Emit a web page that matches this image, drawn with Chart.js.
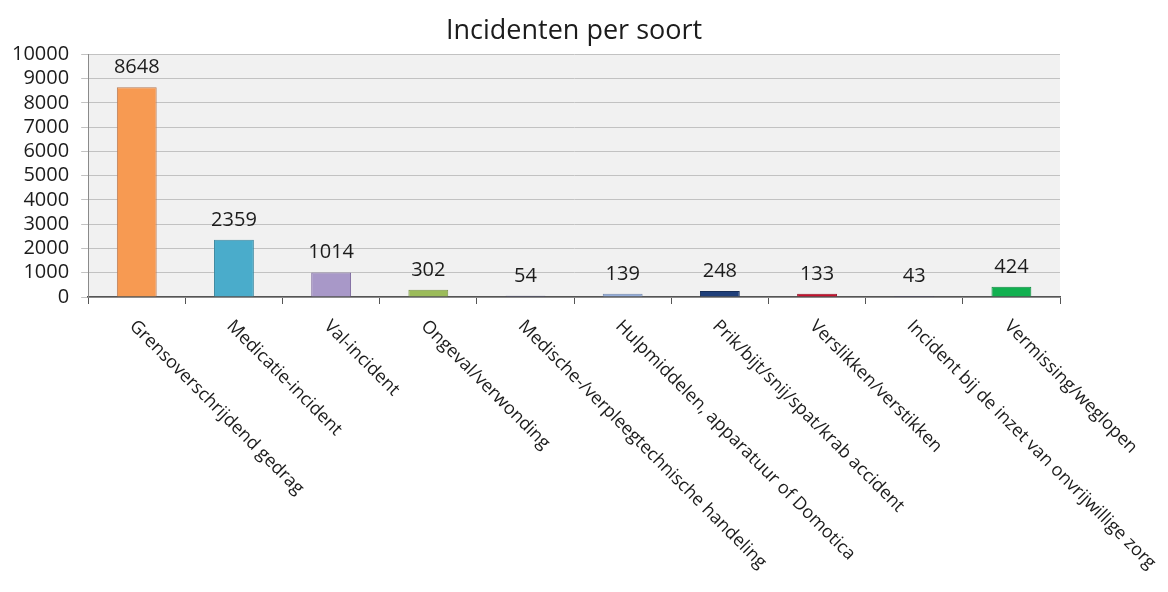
<!DOCTYPE html>
<html>
<head>
<meta charset="utf-8">
<script src="https://cdn.jsdelivr.net/npm/chart.js@4"></script>
<style>
  html, body { margin: 0; padding: 0; background: #fff; }
  #wrap { width: 1168px; height: 592px; }
</style>
</head>
<body>
<div id="wrap"><canvas id="chart"></canvas></div>
<script>
const categories = [
    "Grensoverschrijdend gedrag",
    "Medicatie-incident",
    "Val-incident",
    "Ongeval/verwonding",
    "Medische-/verpleegtechnische handeling",
    "Hulpmiddelen, apparatuur of Domotica",
    "Prik/bijt/snij/spat/krab accident",
    "Verslikken/verstikken",
    "Incident bij de inzet van onvrijwillige zorg",
    "Vermissing/weglopen"
];
const counts = [8648, 2359, 1014, 302, 54, 139, 248, 133, 43, 424];
const barColors = ["#f79a52", "#4aaccb", "#a898c8", "#9bbb59", "#55548a", "#95aedb", "#1f3f7a", "#c8102e", "#4e4c80", "#12b050"];
const borderColors = ["#b77a55", "#3c88a0", "#7e6a9e", "#7a9546", "#3e3d6a", "#7287ad", "#162d57", "#961025", "#3a3860", "#0f8a40"];
const yTicks = [0, 1000, 2000, 3000, 4000, 5000, 6000, 7000, 8000, 9000, 10000];

const txt = "#1c1c1c";
const fontName = "'Open Sans', sans-serif";

// grey plot background, value labels and the slanted category labels
const extras = {
    id: "extras",
    beforeDraw(chart) {
        const a = chart.chartArea, ctx = chart.ctx;
        ctx.save();
        ctx.fillStyle = "#f1f1f1";
        ctx.fillRect(a.left, a.top, a.right - a.left, a.bottom - a.top);
        ctx.restore();
    },
    afterDraw(chart) {
        const ctx = chart.ctx, xs = chart.scales.x;
        const meta = chart.getDatasetMeta(0);
        ctx.save();
        ctx.fillStyle = txt;
        ctx.font = "20px " + fontName;
        ctx.textAlign = "center";
        ctx.textBaseline = "alphabetic";
        meta.data.forEach((bar, i) => {
            ctx.fillText(String(counts[i]), bar.x, bar.y - 14);
        });
        ctx.font = "18px " + fontName;
        ctx.textAlign = "left";
        ctx.textBaseline = "top";
        categories.forEach((c, i) => {
            ctx.save();
            ctx.translate(xs.getPixelForValue(i) + 2, chart.chartArea.bottom + 20);
            ctx.rotate(Math.PI / 4);
            ctx.fillText(c, 0, 0);
            ctx.restore();
        });
        ctx.restore();
    }
};

new Chart(document.getElementById("chart"), {
    type: "bar",
    data: {
        labels: categories,
        datasets: [{
            data: counts,
            backgroundColor: barColors,
            borderColor: borderColors,
            borderWidth: 1,
            barPercentage: 0.41,
            categoryPercentage: 1
        }]
    },
    options: {
        responsive: true,
        maintainAspectRatio: false,
        animation: false,
        layout: { padding: { left: 0, right: 108, top: 0, bottom: 288 } },
        plugins: {
            legend: { display: false },
            tooltip: { enabled: false },
            title: {
                display: true,
                text: "Incidenten per soort",
                fullSize: false,
                color: txt,
                font: { family: fontName, size: 27, weight: "normal" },
                padding: { top: 15, bottom: 7 }
            }
        },
        scales: {
            x: {
                grid: { drawOnChartArea: false, drawTicks: true, tickLength: 7, color: "#555", offset: true },
                border: { color: "#555", width: 1.5 },
                ticks: { display: false }
            },
            y: {
                min: 0,
                max: 10000,
                afterBuildTicks(axis) { axis.ticks = yTicks.map(v => ({ value: v })); },
                grid: { color: "#c2c2c2", tickLength: 7 },
                border: { color: "#8a8a8a" },
                ticks: {
                    color: txt,
                    padding: 12,
                    autoSkip: false,
                    font: { family: fontName, size: 20 },
                    callback: (v) => String(v)
                }
            }
        }
    },
    plugins: [extras]
});
</script>
</body>
</html>
